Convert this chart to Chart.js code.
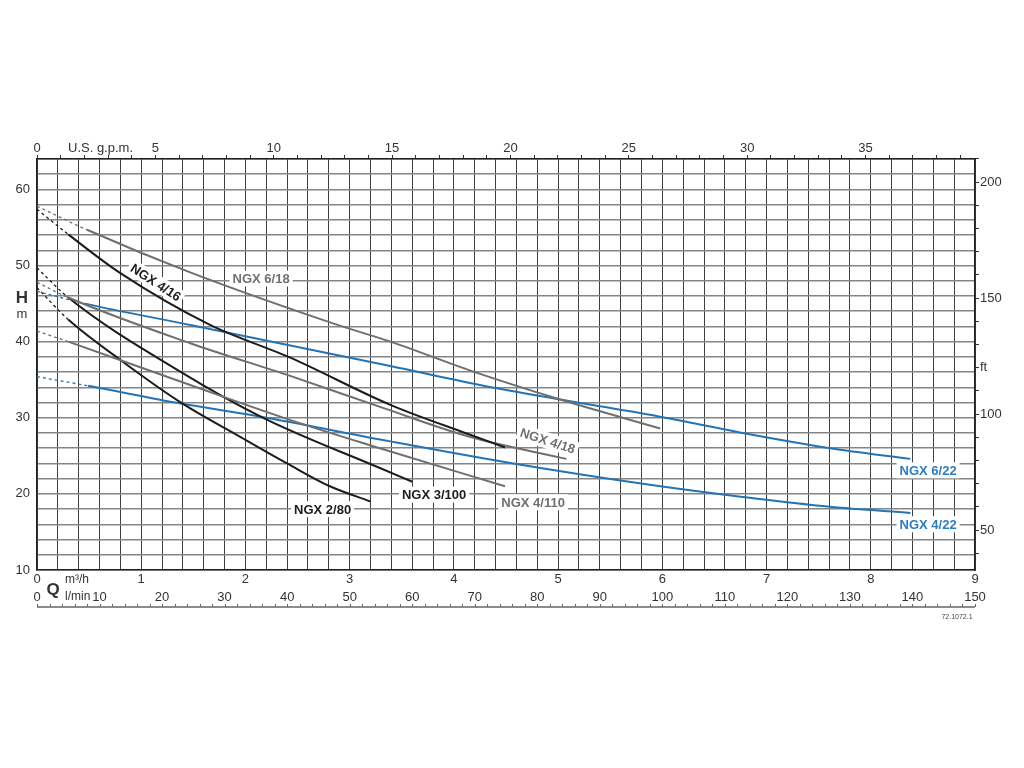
<!DOCTYPE html>
<html><head><meta charset="utf-8">
<script src="https://cdn.jsdelivr.net/npm/chart.js@4.4.0/dist/chart.umd.min.js"></script>
<style>html,body{margin:0;padding:0;background:#fff}canvas{display:block}</style>
</head><body>
<canvas id="c" width="1024" height="768"></canvas>
<script>
// ---- Data (Q in m3/h, H in m) ----
const seriesNames = ['NGX 6/18','NGX 4/16','NGX 6/22','NGX 4/22','NGX 4/18','NGX 3/100','NGX 4/110','NGX 2/80'];
const q_618  = [0, 0.48, 1.47, 2.84, 3.39, 4.18, 5.02, 5.98];
const h_618  = [57.8, 54.7, 49.1, 42.4, 40.0, 36.1, 32.4, 28.6];
const q_416  = [0, 0.30, 0.80, 1.66, 2.43, 3.39, 4.15, 4.49];
const h_416  = [57.4, 54.1, 49.0, 42.2, 37.9, 31.7, 27.8, 26.1];
const q_622  = [0, 0.46, 1.47, 3.39, 4.25, 5.02, 5.88, 6.77, 7.61, 8.38];
const h_622  = [46.6, 45.0, 42.2, 36.8, 34.3, 32.4, 30.4, 28.0, 26.0, 24.6];
const q_422  = [0, 0.49, 1.37, 2.20, 3.39, 4.57, 5.88, 6.77, 7.61, 8.38];
const h_422  = [35.4, 34.2, 31.9, 30.0, 26.9, 24.0, 21.2, 19.6, 18.3, 17.5];
const q_418  = [0, 0.30, 1.47, 2.43, 3.34, 4.15, 5.08];
const h_418  = [47.8, 45.8, 39.8, 35.5, 31.2, 27.5, 24.6];
const q_3100 = [0, 0.30, 1.37, 2.17, 3.29, 3.60];
const h_3100 = [49.7, 45.8, 36.1, 30.0, 23.4, 21.6];
const q_4110 = [0, 0.30, 1.47, 2.52, 3.29, 4.49];
const h_4110 = [41.4, 40.0, 34.3, 29.3, 26.0, 21.0];
const q_280  = [0, 0.30, 0.80, 1.37, 1.95, 2.40, 2.81, 3.20];
const h_280  = [47.1, 42.9, 37.6, 32.1, 27.5, 24.0, 21.0, 19.0];

// ---- Tick labels ----
const qTickLabels    = [0,1,2,3,4,5,6,7,8,9];            // m3/h
const hTickLabels    = [10,20,30,40,50,60];               // m
const gpmTickLabels  = [0,5,10,15,20,25,30,35];           // U.S. g.p.m.
const ftTickLabels   = [50,100,150,200];                  // ft
const lminTickLabels = [0,10,20,30,40,50,60,70,80,90,100,110,120,130,140,150]; // l/min

// grid / minor tick positions
const qGrid   = Array.from({length:46},(_,i)=>i/5);
const hGrid   = Array.from({length:28},(_,i)=>10+2*i);
const gpmMinor= Array.from({length:40},(_,i)=>i);
const ftMinor = Array.from({length:18},(_,i)=>40+10*i);
const lminMinor = Array.from({length:76},(_,i)=>2*i);

const FONT = '"Liberation Sans", Arial, Helvetica, sans-serif';
const BLACK = '#1c1c1c', GREY = '#6f6f6f', BLUE = '#2474b5', BLUE_T = '#2d7cc0';
const TXT = '#333333';

function ds(name, q, h, color){
  return {
    label:name, data:q.map((x,i)=>({x:x, y:h[i]})),
    borderColor:color, borderWidth:2, pointRadius:0, fill:false,
    cubicInterpolationMode:'monotone', xAxisID:'x', yAxisID:'y',
    segment:{
      borderDash: c => c.p0DataIndex===0 ? [3,3] : undefined,
      borderWidth: c => c.p0DataIndex===0 ? 1.3 : undefined
    }
  };
}

const datasets = [
  ds(seriesNames[0], q_618, h_618, GREY),
  ds(seriesNames[1], q_416, h_416, BLACK),
  ds(seriesNames[4], q_418, h_418, GREY),
  ds(seriesNames[6], q_4110, h_4110, GREY),
  ds(seriesNames[5], q_3100, h_3100, BLACK),
  ds(seriesNames[7], q_280, h_280, BLACK),
  ds(seriesNames[2], q_622, h_622, BLUE),
  ds(seriesNames[3], q_422, h_422, BLUE)
];

// curve label annotations (placed in data coordinates)
const curveLabels = [
  {text:seriesNames[0], q:2.15, h:48.3, rot:0,  color:'#707070'},
  {text:seriesNames[1], q:1.14, h:47.8, rot:33, color:BLACK},
  {text:seriesNames[4], q:4.90, h:27.0, rot:18, color:'#707070'},
  {text:seriesNames[6], q:4.76, h:18.9, rot:0,  color:'#707070'},
  {text:seriesNames[5], q:3.81, h:19.9, rot:0,  color:BLACK},
  {text:seriesNames[7], q:2.74, h:18.0, rot:0,  color:BLACK},
  {text:seriesNames[2], q:8.55, h:23.1, rot:0,  color:BLUE_T},
  {text:seriesNames[3], q:8.55, h:16.0, rot:0,  color:BLUE_T}
];

function labelBoxes(chart, cb){
  const ctx = chart.ctx, xs = chart.scales.x, ys = chart.scales.y;
  ctx.save();
  ctx.font = 'bold 13px ' + FONT;
  for (const L of curveLabels){
    const px = xs.getPixelForValue(L.q), py = ys.getPixelForValue(L.h);
    const w = ctx.measureText(L.text).width;
    ctx.save();
    ctx.translate(px, py);
    ctx.rotate(L.rot*Math.PI/180);
    cb(ctx, L, w);
    ctx.restore();
  }
  ctx.restore();
}

const decor = {
  id:'decor',
  beforeDatasetsDraw(chart){
    labelBoxes(chart, (ctx,L,w)=>{ ctx.fillStyle='#fff'; ctx.fillRect(-w/2-3,-8,w+6,16); });
  },
  afterDatasetsDraw(chart){
    labelBoxes(chart, (ctx,L,w)=>{
      ctx.fillStyle=L.color; ctx.textAlign='center'; ctx.textBaseline='middle';
      ctx.fillText(L.text,0,1);
    });
  },
  afterDraw(chart){
    const ctx = chart.ctx;
    const x3 = chart.scales.x3;
    ctx.save();
    ctx.fillStyle = TXT;
    ctx.textBaseline='middle';
    // top axis title
    ctx.font = '13px ' + FONT; ctx.textAlign='left';
    ctx.fillText('U.S. g.p.m.', 68, 148);
    // H m
    ctx.textAlign='center';
    ctx.font = 'bold 17px ' + FONT; ctx.fillText('H', 22, 298);
    ctx.font = '13px ' + FONT; ctx.fillText('m', 22, 314);
    // Q
    ctx.font = 'bold 17px ' + FONT; ctx.fillText('Q', 53, 590);
    ctx.textAlign='left';
    ctx.font = '12px ' + FONT;
    ctx.fillText('m\u00B3/h', 65, 580);
    ctx.fillText('l/min', 65, 597);
    // ruler
    const y0 = 607;
    ctx.strokeStyle = '#666'; ctx.lineWidth = 1.5;
    ctx.beginPath();
    ctx.moveTo(x3.getPixelForValue(0), y0); ctx.lineTo(x3.getPixelForValue(150), y0);
    ctx.stroke();
    ctx.lineWidth = 1;
    ctx.beginPath();
    for (const v of lminMinor){
      const p = Math.round(x3.getPixelForValue(v))+0.5;
      ctx.moveTo(p, y0); ctx.lineTo(p, y0-3);
    }
    ctx.stroke();
    // drawing code
    ctx.font = '7px ' + FONT; ctx.textAlign='center'; ctx.fillStyle='#444';
    ctx.fillText('72.1072.1', 957, 617);
    ctx.restore();
  }
};

const tickFont = {family:FONT, size:13};

new Chart(document.getElementById('c'), {
  type:'line',
  data:{datasets:datasets},
  options:{
    responsive:false, animation:false, devicePixelRatio:1,
    layout:{padding:0},
    plugins:{legend:{display:false}, tooltip:{enabled:false}},
    scales:{
      x:{
        type:'linear', axis:'x', position:'bottom', weight:0, min:0, max:9,
        afterBuildTicks:s=>{ s.ticks = qGrid.map(v=>({value:v})); },
        ticks:{autoSkip:false, maxRotation:0, padding:2, color:TXT, font:tickFont,
          callback:v=>{ const r=Math.round(v*1000)/1000; return qTickLabels.includes(r)?String(r):''; }},
        grid:{color:'#3f3f3f', lineWidth:1, drawTicks:false},
        border:{display:true, color:'#222', width:1.5},
        afterFit:s=>{ s.height = 16; }
      },
      x3:{
        type:'linear', axis:'x', position:'bottom', weight:1, min:0, max:150,
        afterBuildTicks:s=>{ s.ticks = lminTickLabels.map(v=>({value:v})); },
        ticks:{autoSkip:false, maxRotation:0, padding:4, color:TXT, font:tickFont,
          callback:v=>String(v)},
        grid:{display:false, drawTicks:false},
        border:{display:false},
        afterFit:s=>{ s.height = 182; }
      },
      xTop:{
        type:'linear', axis:'x', position:'top', min:0, max:150/3.785411784,
        afterBuildTicks:s=>{ s.ticks = gpmMinor.map(v=>({value:v})); },
        ticks:{autoSkip:false, maxRotation:0, padding:-1, color:TXT, font:tickFont,
          callback:v=> gpmTickLabels.includes(v)?String(v):''},
        grid:{display:true, drawOnChartArea:false, drawTicks:true, tickLength:4, color:'#333', lineWidth:1},
        border:{display:true, color:'#222', width:1.5},
        afterFit:s=>{ s.height = 159; }
      },
      y:{
        type:'linear', axis:'y', position:'left', min:10, max:64,
        afterBuildTicks:s=>{ s.ticks = hGrid.map(v=>({value:v})); },
        ticks:{autoSkip:false, padding:7, color:TXT, font:tickFont,
          callback:v=> hTickLabels.includes(v)?String(v):''},
        grid:{color:'#858585', lineWidth:1.5, drawTicks:false},
        border:{display:true, color:'#222', width:1.5},
        afterFit:s=>{ s.width = 37; }
      },
      yR:{
        type:'linear', axis:'y', position:'right', min:10/0.3048, max:64/0.3048,
        afterBuildTicks:s=>{ s.ticks = ftMinor.map(v=>({value:v})); },
        ticks:{autoSkip:false, padding:1, color:TXT, font:tickFont,
          callback:v=> v===120 ? 'ft' : (ftTickLabels.includes(v)?String(v):'')},
        grid:{display:true, drawOnChartArea:false, drawTicks:true, tickLength:4, color:'#333', lineWidth:1},
        border:{display:true, color:'#222', width:1.5},
        afterFit:s=>{ s.width = 49; }
      }
    }
  },
  plugins:[decor]
});
</script>
</body></html>
